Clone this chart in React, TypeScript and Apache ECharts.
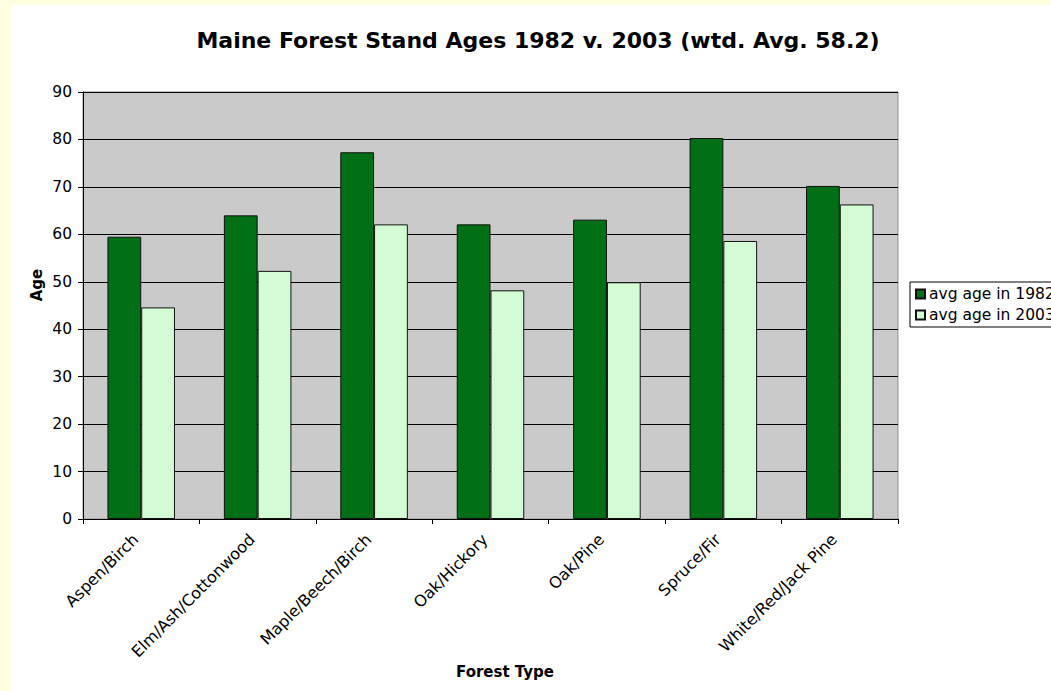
import React, { useEffect, useRef } from "react";
import * as echarts from "echarts";

// Forest types (category axis)
const forestTypes = [
  "Aspen/Birch",
  "Elm/Ash/Cottonwood",
  "Maple/Beech/Birch",
  "Oak/Hickory",
  "Oak/Pine",
  "Spruce/Fir",
  "White/Red/Jack Pine",
];

// Average stand age per forest type
const avgAge1982 = [59.5, 64.0, 77.3, 62.1, 63.1, 80.3, 70.2];
const avgAge2003 = [44.6, 52.3, 62.1, 48.2, 49.9, 58.6, 66.3];

const seriesNames = ["avg age in 1982", "avg age in 2003"];
const chartTitle = "Maine Forest Stand Ages 1982 v. 2003 (wtd. Avg. 58.2)";
const yAxisTitle = "Age";
const xAxisTitle = "Forest Type";

const FONT = "'DejaVu Sans', Verdana, sans-serif";

export default function App() {
  const ref = useRef<HTMLDivElement>(null);

  useEffect(() => {
    if (!ref.current) return;
    const chart = echarts.init(ref.current, undefined, { renderer: "svg" });
    chart.setOption({
      animation: false,
      backgroundColor: "#ffffff",
      textStyle: { fontFamily: FONT, color: "#000" },
      graphic: [
        {
          type: "text",
          x: 527,
          y: 35,
          style: {
            text: chartTitle,
            align: "center",
            verticalAlign: "middle",
            fontFamily: FONT,
            fontSize: 22,
            fontWeight: "bold",
            fill: "#000",
          },
        },
        {
          type: "text",
          x: 26,
          y: 280,
          rotation: Math.PI / 2,
          style: {
            text: yAxisTitle,
            align: "center",
            verticalAlign: "middle",
            fontFamily: FONT,
            fontSize: 15,
            fontWeight: "bold",
            fill: "#000",
          },
        },
        {
          type: "text",
          x: 494,
          y: 667,
          style: {
            text: xAxisTitle,
            align: "center",
            verticalAlign: "middle",
            fontFamily: FONT,
            fontSize: 15,
            fontWeight: "bold",
            fill: "#000",
          },
        },
      ],
      legend: {
        orient: "vertical",
        left: 899,
        top: 277,
        itemWidth: 9,
        itemHeight: 9,
        itemGap: 5,
        padding: [4, 40, 4, 5],
        borderColor: "#000",
        borderWidth: 1,
        backgroundColor: "#fff",
        icon: "rect",
        textStyle: { fontFamily: FONT, fontSize: 15.5, color: "#000", padding: [0, 0, 0, -1] },
        data: seriesNames,
      },
      grid: {
        left: 72,
        top: 87,
        width: 815,
        height: 427,
        show: true,
        backgroundColor: "#cacaca",
        borderColor: "#8f8f8f",
        borderWidth: 1,
      },
      xAxis: {
        type: "category",
        data: forestTypes,
        axisLine: { lineStyle: { color: "#000", width: 1 } },
        axisTick: { show: true, length: 5, alignWithLabel: false, lineStyle: { color: "#000" } },
        axisLabel: {
          interval: 0,
          rotate: 45,
          margin: 12,
          padding: [0, 8, 0, 0],
          fontSize: 16,
          fontFamily: FONT,
          color: "#000",
        },
        splitLine: { show: false },
      },
      yAxis: {
        type: "value",
        min: 0,
        max: 90,
        interval: 10,
        axisLine: { show: true, lineStyle: { color: "#000", width: 1 } },
        axisTick: { show: true, length: 5, lineStyle: { color: "#000" } },
        axisLabel: { fontSize: 15.5, fontFamily: FONT, color: "#000", margin: 11 },
        splitLine: { show: true, lineStyle: { color: "#000", width: 1 } },
      },
      series: [
        {
          name: seriesNames[0],
          type: "bar",
          data: avgAge1982,
          barGap: "0%",
          barCategoryGap: "42%",
          itemStyle: { color: "#006f15", borderColor: "#111", borderWidth: 1 },
        },
        {
          name: seriesNames[1],
          type: "bar",
          data: avgAge2003,
          barGap: "0%",
          barCategoryGap: "42%",
          itemStyle: { color: "#d4fcd4", borderColor: "#111", borderWidth: 1 },
        },
      ],
    });
    return () => chart.dispose();
  }, []);

  return (
    <div
      style={{
        position: "fixed",
        left: 0,
        top: 0,
        width: 1051,
        height: 691,
        background: "#fffde0",
        overflow: "hidden",
      }}
    >
      <div
        ref={ref}
        style={{ position: "absolute", left: 11, top: 5, width: 1040, height: 686 }}
      />
    </div>
  );
}
